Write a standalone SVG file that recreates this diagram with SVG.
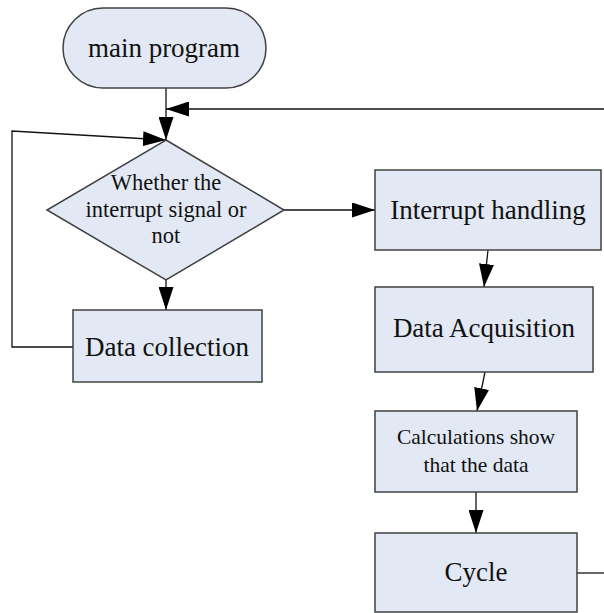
<svg xmlns="http://www.w3.org/2000/svg" width="604" height="613" viewBox="0 0 604 613">
<defs>
<style>
.box{fill:#e2e9f4;stroke:#404040;stroke-width:1.5}
.t{font-family:"Liberation Serif","Times New Roman",serif;fill:#111;text-anchor:middle}
.c{fill:none;stroke:#111;stroke-width:1.3}
</style>
<marker id="ah" markerUnits="userSpaceOnUse" markerWidth="23" markerHeight="15" refX="23" refY="7.5" orient="auto">
<path d="M0,0 L23,7.5 L0,15 z" fill="#000"/>
</marker>
</defs>
<rect width="604" height="613" fill="#fff"/>
<g id="connectors">
<line class="c" x1="166" y1="88" x2="166" y2="140" marker-end="url(#ah)"/>
<polyline class="c" points="604,109 166,109" marker-end="url(#ah)"/>
<polyline class="c" points="73,347 12,347 12,131 166,140" marker-end="url(#ah)"/>
<line class="c" x1="166" y1="280" x2="166" y2="310" marker-end="url(#ah)"/>
<line class="c" x1="284" y1="210" x2="375" y2="210" marker-end="url(#ah)"/>
<line class="c" x1="488" y1="250" x2="484" y2="287" marker-end="url(#ah)"/>
<line class="c" x1="485" y1="372" x2="477" y2="411" marker-end="url(#ah)"/>
<line class="c" x1="476" y1="492" x2="476" y2="533" marker-end="url(#ah)"/>
<line class="c" x1="577" y1="573" x2="604" y2="573"/>
</g>
<g id="main">
<rect class="box" x="63" y="8" width="203" height="80" rx="40" ry="40"/>
<text class="t" x="164" y="57" font-size="27">main program</text>
</g>
<g id="decision">
<polygon class="box" points="166,140 284,210 166,280 47,210"/>
<text class="t" x="166" y="190" font-size="22.5">Whether the</text>
<text class="t" x="166" y="217" font-size="22.5">interrupt signal or</text>
<text class="t" x="166" y="243" font-size="22.5">not</text>
</g>
<g id="collection">
<rect class="box" x="73" y="310" width="189" height="72"/>
<text class="t" x="167" y="356" font-size="27">Data collection</text>
</g>
<g id="interrupt">
<rect class="box" x="375" y="170" width="226" height="80"/>
<text class="t" x="488" y="219" font-size="27">Interrupt handling</text>
</g>
<g id="acquisition">
<rect class="box" x="375" y="287" width="218" height="85"/>
<text class="t" x="484" y="337" font-size="27">Data Acquisition</text>
</g>
<g id="calc">
<rect class="box" x="375" y="411" width="202" height="81"/>
<text class="t" x="476" y="444" font-size="21.5">Calculations show</text>
<text class="t" x="476" y="472" font-size="21.5">that the data</text>
</g>
<g id="cycle">
<rect class="box" x="375" y="533" width="202" height="79"/>
<text class="t" x="476" y="581" font-size="27">Cycle</text>
</g>
</svg>
